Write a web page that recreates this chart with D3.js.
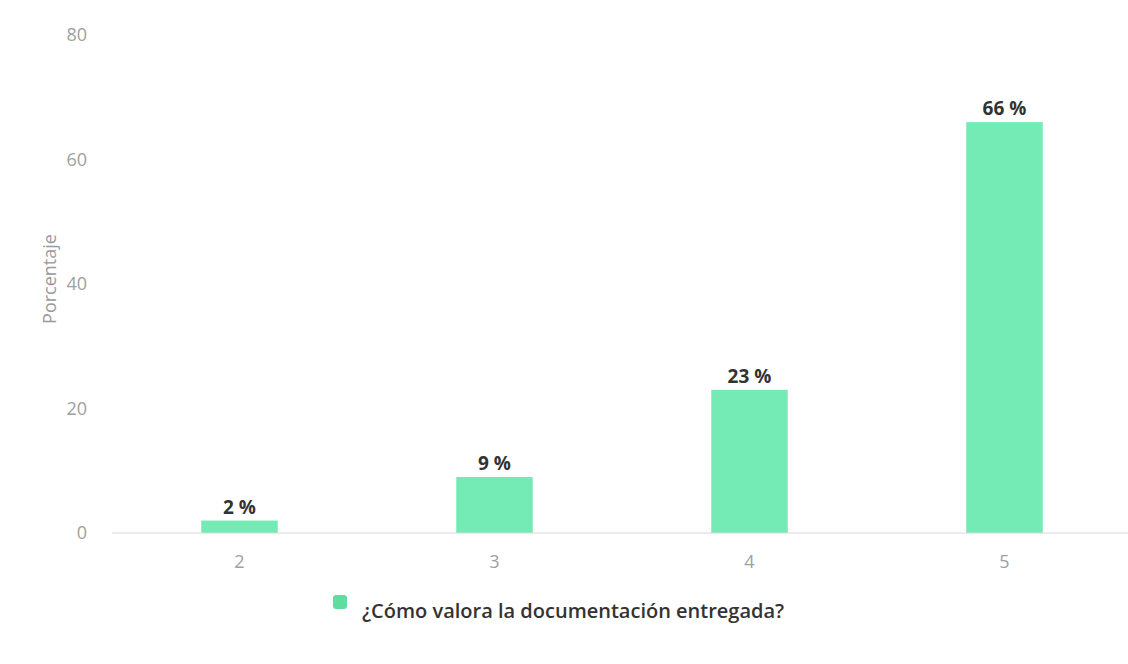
<!DOCTYPE html>
<html>
<head>
<meta charset="utf-8">
<script src="https://cdn.jsdelivr.net/npm/d3@7"></script>
<style>
  body { margin: 0; background: #fff; }
  text { font-family: "Open Sans", sans-serif; }
</style>
</head>
<body>
<div id="chart"></div>
<script>
var w = 1128, h = 664;

var categories = ["2", "3", "4", "5"]; // valoraciones
var values = [2, 9, 23, 66]; // porcentaje
var yTicks = [0, 20, 40, 60, 80];
var seriesName = "¿Cómo valora la documentación entregada?";

// note: "top" is reserved on window, so plot edges get their own names
var plotLeft = 112, plotRight = 1132, plotTop = 35, plotBottom = 533;

var svg = d3.select("#chart").append("svg")
    .attr("width", w)
    .attr("height", h);

var x = d3.scaleBand()
    .domain(categories)
    .range([plotLeft, plotRight])
    .paddingInner(0.7)
    .paddingOuter(0.35);

var y = d3.scaleLinear()
    .domain([0, 80])
    .range([plotBottom, plotTop]);

// y axis (labels only)
var yAxis = svg.append("g")
    .attr("transform", "translate(" + (plotLeft - 25) + ",0)")
    .call(d3.axisLeft(y).tickValues(yTicks).tickSize(0).tickPadding(0));
yAxis.select(".domain").remove();
yAxis.selectAll("text")
    .attr("font-size", 18)
    .attr("fill", "#a0a0a0")
    .attr("font-family", "Open Sans, sans-serif");

svg.append("text")
    .attr("transform", "translate(56," + 279 + ") rotate(-90)")
    .attr("text-anchor", "middle")
    .attr("font-size", 18)
    .attr("fill", "#9a9a9a")
    .text("Porcentaje");

// bars
svg.selectAll("rect.bar")
    .data(values)
    .enter()
    .append("rect")
    .attr("class", "bar")
    .attr("x", function(d, i) { return x(categories[i]); })
    .attr("y", function(d) { return y(d); })
    .attr("width", x.bandwidth())
    .attr("height", function(d) { return y(0) - y(d); })
    .attr("fill", "#74eab4");

// value labels
svg.selectAll("text.val")
    .data(values)
    .enter()
    .append("text")
    .attr("class", "val")
    .attr("x", function(d, i) { return x(categories[i]) + x.bandwidth() / 2; })
    .attr("y", function(d) { return y(d) - 7; })
    .attr("text-anchor", "middle")
    .attr("font-size", 19)
    .attr("font-weight", "bold")
    .attr("fill", "#333")
    .text(function(d) { return d + " %"; });

// x axis
var xAxis = svg.append("g")
    .attr("transform", "translate(0," + plotBottom + ")")
    .call(d3.axisBottom(x).tickSize(0).tickPadding(22));
xAxis.select(".domain")
    .attr("stroke", "#d8d8d8")
    .attr("d", "M" + plotLeft + ",0H" + w);
xAxis.selectAll("text")
    .attr("font-size", 18)
    .attr("fill", "#a0a0a0")
    .attr("font-family", "Open Sans, sans-serif");

// legend
var legend = svg.append("g").attr("transform", "translate(333,595)");
legend.append("rect")
    .attr("width", 14)
    .attr("height", 14)
    .attr("rx", 3)
    .attr("fill", "#5fdc9f");
legend.append("text")
    .attr("x", 29)
    .attr("y", 23)
    .attr("font-size", 20)
    .attr("font-weight", 600)
    .attr("fill", "#333")
    .text(seriesName);
</script>
</body>
</html>
